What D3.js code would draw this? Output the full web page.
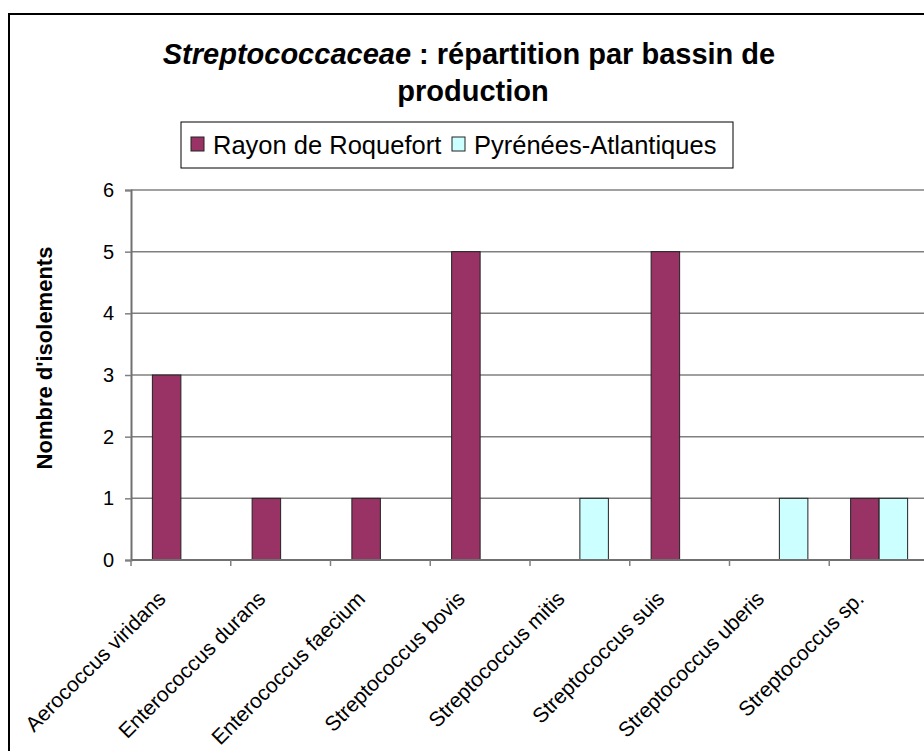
<!DOCTYPE html>
<html>
<head>
<meta charset="utf-8">
<script src="https://cdn.jsdelivr.net/npm/d3@7"></script>
<style>
  body { margin: 0; background: #fff; }
  svg { display: block; font-family: "Liberation Sans", Arial, sans-serif; }
</style>
</head>
<body>
<div id="chart"></div>
<script>
// data
const categories = [
  "Aerococcus viridans",
  "Enterococcus durans",
  "Enterococcus faecium",
  "Streptococcus bovis",
  "Streptococcus mitis",
  "Streptococcus suis",
  "Streptococcus uberis",
  "Streptococcus sp."
];
const seriesNames = ["Rayon de Roquefort", "Pyrénées-Atlantiques"];
const roquefort = [3, 1, 1, 5, 0, 5, 0, 1];
const pyrenees = [0, 0, 0, 0, 1, 0, 1, 1];
const yTicks = [0, 1, 2, 3, 4, 5, 6];
const colors = ["#993366", "#CCFFFF"];

const width = 924, height = 751;
const plot = { left: 131, right: 929, top: 190, bottom: 560 };

const svg = d3.select("#chart").append("svg")
  .attr("width", width)
  .attr("height", height);

svg.append("rect").attr("width", width).attr("height", height).attr("fill", "#fff");

// outer chart border (runs off the right and bottom of the picture)
svg.append("rect")
  .attr("x", 9).attr("y", 14)
  .attr("width", 940).attr("height", 760)
  .attr("fill", "none")
  .attr("stroke", "#000")
  .attr("stroke-width", 2);

// title
const title = svg.append("text")
  .attr("text-anchor", "middle")
  .attr("font-weight", "bold")
  .attr("font-size", 29)
  .attr("fill", "#000");
const l1 = title.append("tspan").attr("x", 469).attr("y", 64);
l1.append("tspan").attr("font-style", "italic").text("Streptococcaceae");
l1.append("tspan").text(" : répartition par bassin de");
title.append("tspan").attr("x", 473).attr("y", 101).text("production");

// scales
const x = d3.scaleBand().domain(categories).range([plot.left, plot.right]);
const x1 = d3.scaleBand().domain(seriesNames).range([0, x.bandwidth()])
  .paddingInner(0).paddingOuter(0.75);
const y = d3.scaleLinear().domain([0, 6]).range([plot.bottom, plot.top]);

// gridlines
svg.append("g")
  .selectAll("line")
  .data(yTicks.slice(1))
  .join("line")
  .attr("x1", plot.left).attr("x2", plot.right)
  .attr("y1", d => y(d)).attr("y2", d => y(d))
  .attr("stroke", "#808080")
  .attr("stroke-width", 1.5);

// bars
const rows = categories.map((c, i) => ({ cat: c, vals: [roquefort[i], pyrenees[i]] }));
svg.append("g")
  .selectAll("g")
  .data(rows)
  .join("g")
  .attr("transform", d => `translate(${x(d.cat)},0)`)
  .selectAll("rect")
  .data(d => d.vals.map((v, j) => ({ key: seriesNames[j], v: v, j: j })).filter(d => d.v > 0))
  .join("rect")
  .attr("x", d => x1(d.key))
  .attr("width", x1.bandwidth())
  .attr("y", d => y(d.v))
  .attr("height", d => y(0) - y(d.v))
  .attr("fill", d => colors[d.j])
  .attr("stroke", "#222")
  .attr("stroke-width", 1);

// y axis
const yAxis = svg.append("g")
  .attr("transform", `translate(${plot.left},0)`)
  .call(d3.axisLeft(y).tickValues(yTicks).tickSize(6).tickPadding(11).tickFormat(d3.format("d")));
yAxis.select(".domain").attr("stroke", "#707070").attr("stroke-width", 2);
yAxis.selectAll(".tick line").attr("stroke", "#808080").attr("stroke-width", 1.5);
yAxis.selectAll("text").attr("font-size", 20).attr("fill", "#000")
  .attr("font-family", "Liberation Sans, Arial, sans-serif");

// x axis
const xAxis = svg.append("g").attr("transform", `translate(0,${plot.bottom})`);
xAxis.append("line")
  .attr("x1", plot.left).attr("x2", plot.right)
  .attr("stroke", "#707070").attr("stroke-width", 2);
xAxis.selectAll(".xtick")
  .data(categories)
  .join("line")
  .attr("class", "xtick")
  .attr("x1", d => x(d)).attr("x2", d => x(d))
  .attr("y1", 0).attr("y2", 6)
  .attr("stroke", "#808080").attr("stroke-width", 1.5);
xAxis.selectAll(".xlabel")
  .data(categories)
  .join("text")
  .attr("class", "xlabel")
  .attr("text-anchor", "end")
  .attr("font-size", 21)
  .attr("fill", "#000")
  .attr("transform", d => `translate(${x(d) + x.bandwidth() / 2 - 14},40) rotate(-45)`)
  .text(d => d);

// y axis title
svg.append("text")
  .attr("transform", "translate(52,358) rotate(-90)")
  .attr("text-anchor", "middle")
  .attr("font-weight", "bold")
  .attr("font-size", 22)
  .attr("fill", "#000")
  .text("Nombre d'isolements");

// legend
const legend = svg.append("g");
legend.append("rect")
  .attr("x", 181).attr("y", 122)
  .attr("width", 552).attr("height", 46)
  .attr("fill", "#fff")
  .attr("stroke", "#000")
  .attr("stroke-width", 1);
const legendX = [191, 452];
const item = legend.selectAll(".item")
  .data(seriesNames)
  .join("g")
  .attr("class", "item")
  .attr("transform", (d, i) => `translate(${legendX[i]},0)`);
item.append("rect")
  .attr("x", 0).attr("y", 137)
  .attr("width", 13).attr("height", 14)
  .attr("fill", (d, i) => colors[i])
  .attr("stroke", "#222");
item.append("text")
  .attr("x", 22).attr("y", 154)
  .attr("font-size", 25.5)
  .attr("fill", "#000")
  .text(d => d);
</script>
</body>
</html>
